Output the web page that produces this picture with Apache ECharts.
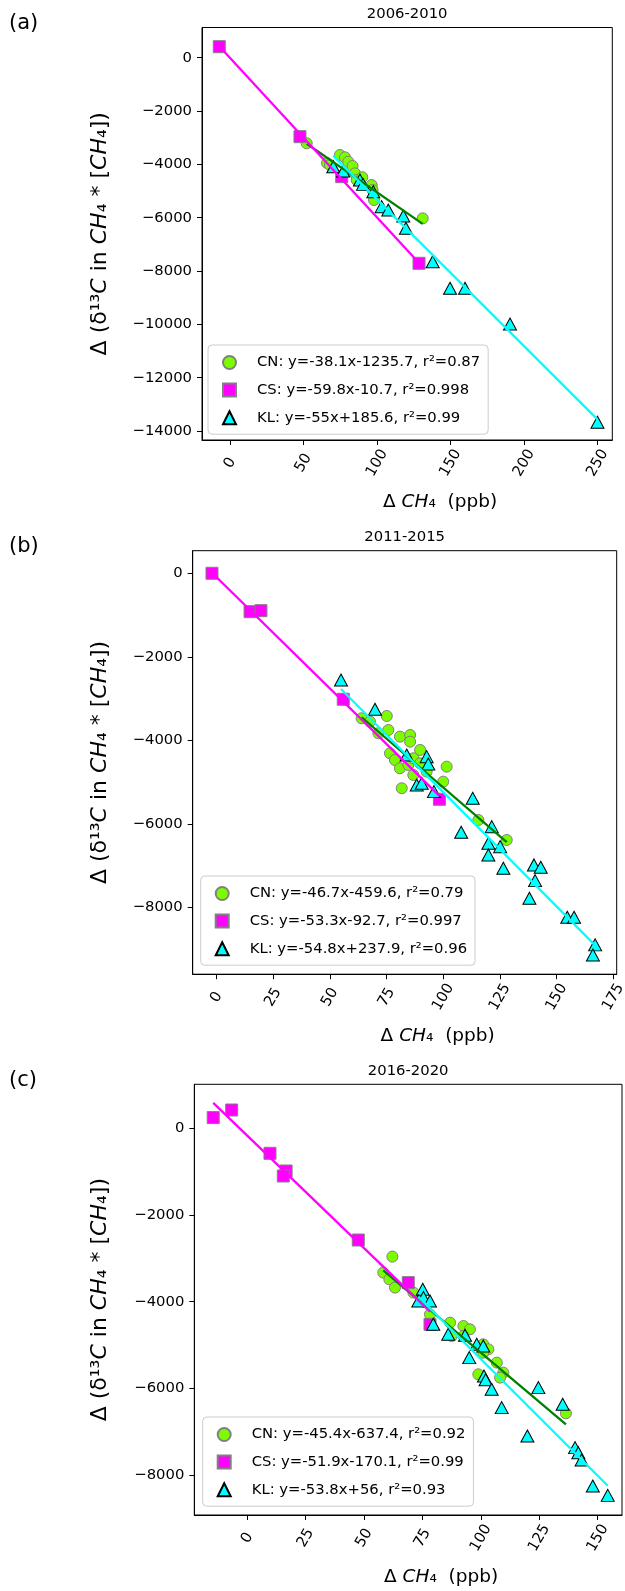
<!DOCTYPE html>
<html>
<head>
<meta charset="utf-8">
<script src="https://cdn.jsdelivr.net/npm/echarts@6/dist/echarts.min.js"></script>
<style>
  html, body { margin: 0; padding: 0; background: #fff; }
  #chart { width: 625px; height: 1591px; }
</style>
</head>
<body>
<div id="chart"></div>
<script>
// ---- data: [delta CH4 (ppb), delta(d13C*CH4)] ----
// (a) 2006-2010
var cnA = [[52.2,-3210],[66,-3950],[68,-4024],[74.8,-3649],[78.2,-3736],[80.5,-3900],[83.4,-4061],
  [85,-4336],[86.2,-4586],[90,-4480],[96.4,-4774],[97,-4961],[98,-5336],[131.1,-6024]];
var csA = [[-7.3,412],[47.6,-2962],[76,-4462],[128.6,-7710]];
var klA = [[70.3,-4087],[77,-4250],[88.4,-4586],[90.5,-4750],[97.5,-5024],[103.2,-5586],[107.7,-5711],
  [117.9,-5936],[119.7,-6398],[137.9,-7650],[149.7,-8648],[159.9,-8648],[190.5,-9986],[250,-13673]];

// (b) 2011-2015
var cnB = [[64,-3473],[67.7,-3554],[75.1,-3418],[71.4,-3832],[75.8,-3753],[80.9,-3913],[85.4,-3873],
  [85.4,-4033],[76.5,-4311],[78.7,-4472],[80.9,-4670],[84.6,-4591],[86.8,-4431],[89.8,-4551],
  [86.8,-4831],[92.7,-4751],[101.5,-4632],[100,-4991],[81.7,-5149],[115.5,-5909],[128,-6388],[89.8,-4232]];
var csB = [[-2,0],[14.8,-920],[19.6,-896],[55.9,-3018],[98.3,-5413]];
var klB = [[54.9,-2556],[69.9,-3257],[83.9,-4352],[92.7,-4392],[93.4,-4567],[88.3,-5070],[90.5,-5030],
  [95.9,-5230],[113,-5389],[107.9,-6203],[121.4,-6069],[119.9,-6466],[119.9,-6747],[125.1,-6548],
  [126.5,-7065],[140,-6986],[143,-7041],[140.5,-7362],[138,-7784],[154.7,-8239],[157.7,-8239],
  [167,-8901],[166,-9142]];

// (c) 2016-2020
var cnC = [[62.1,-2960],[58.2,-3329],[60.8,-3484],[63.2,-3675],[71.1,-3790],[78.2,-4291],[86.8,-4483],
  [87.5,-4791],[92.5,-4561],[95.3,-4637],[92.5,-4791],[101,-4983],[103.2,-5098],[101,-5175],
  [98.9,-5675],[106.8,-5405],[109.6,-5636],[108.2,-5751],[136.4,-6575]];
var csC = [[-14.6,247],[-6.7,422],[9.7,-577],[16.6,-985],[15.4,-1100],[47.5,-2577],[68.9,-3560],[78.2,-4522]];
var klC = [[75.1,-3714],[75.4,-3906],[78.2,-3984],[73.2,-3984],[79.6,-4522],[86,-4752],[93.2,-4775],
  [98.2,-4983],[101,-5022],[95,-5290],[101.3,-5714],[102,-5800],[104.6,-6021],[108.9,-6443],
  [124.6,-5982],[135,-6367],[119.9,-7098],[140.3,-7366],[141.7,-7482],[143.1,-7652],[147.9,-8252],[154.3,-8467]];

// regression fits given in the legends: slope, intercept, r2  (order CN, CS, KL)
var slopesA = [-38.1, -59.8, -55],   interceptsA = [-1235.7, -10.7, 185.6], r2A = ['0.87', '0.998', '0.99'];
var slopesB = [-46.7, -53.3, -54.8], interceptsB = [-459.6, -92.7, 237.9],  r2B = ['0.79', '0.997', '0.96'];
var slopesC = [-45.4, -51.9, -53.8], interceptsC = [-637.4, -170.1, 56],    r2C = ['0.92', '0.99', '0.93'];

var periods = ['2006-2010', '2011-2015', '2016-2020'];
var tags = ['(a)', '(b)', '(c)'];
var sites = ['CN', 'CS', 'KL'];

// tick labels
var xTicksA = [0, 50, 100, 150, 200, 250];
var xTicksB = [0, 25, 50, 75, 100, 125, 150, 175];
var xTicksC = [0, 25, 50, 75, 100, 125, 150];
var yTicksA = [-14000, -12000, -10000, -8000, -6000, -4000, -2000, 0];
var yTicksB = [-8000, -6000, -4000, -2000, 0];
var yTicksC = [-8000, -6000, -4000, -2000, 0];

// ---- layout (px) ----
var FONT = 'DejaVu Sans';
var FS = 14.8;   // ticks, legend, titles
var XFS = 18.5;  // x axis label
var YFS = 22;    // y axis label
var layout = [
  { left: 202,   top: 27.5,   width: 410.3, height: 412.5, xr: [-19.05, 260.1], yr: [-14336, 1132],
    legend: { left: 208,   top: 345 } },
  { left: 192.7, top: 550.7,  width: 424,   height: 423.5, xr: [-10.5, 176.5],  yr: [-9603, 541],
    legend: { left: 200.7, top: 876 } },
  { left: 194.3, top: 1084.3, width: 427.7, height: 430.7, xr: [-22.7, 160.4],  yr: [-8920, 1015],
    legend: { left: 202.7, top: 1417 } }
];

var groups = [[cnA, csA, klA], [cnB, csB, klB], [cnC, csC, klC]];
var slopes = [slopesA, slopesB, slopesC];
var intercepts = [interceptsA, interceptsB, interceptsC];
var r2s = [r2A, r2B, r2C];
var xTicks = [xTicksA, xTicksB, xTicksC];
var yTicks = [yTicksA, yTicksB, yTicksC];

var look = {
  CN: { symbol: 'circle',   size: 11,      fill: '#7cfc00', edge: '#808080', line: '#008000' },
  CS: { symbol: 'rect',     size: 12,      fill: '#ff00ff', edge: '#808080', line: '#ff00ff' },
  KL: { symbol: 'triangle', size: [13, 12], fill: '#00ffff', edge: '#000000', line: '#00ffff' }
};

function fitName(site, a, b, r2) {
  return site + ': y=' + a + 'x' + (b < 0 ? b : '+' + b) + ', r\u00b2=' + r2;
}
function fitLine(pts, a, b) {
  var xs = pts.map(function (p) { return p[0]; });
  var x0 = Math.min.apply(null, xs), x1 = Math.max.apply(null, xs);
  return [[x0, a * x0 + b], [x1, a * x1 + b]];
}

var grids = [], xAxes = [], yAxes = [], series = [], legends = [], graphics = [];

layout.forEach(function (L, i) {
  grids.push({ left: L.left, top: L.top, width: L.width, height: L.height, show: true,
    borderColor: '#000', borderWidth: 1, backgroundColor: '#fff', containLabel: false, outerBoundsMode: 'none' });

  xAxes.push({
    gridIndex: i, type: 'value', min: L.xr[0], max: L.xr[1],
    axisLine: { onZero: false, lineStyle: { color: '#000', width: 1 } },
    axisTick: { length: 5, customValues: xTicks[i], lineStyle: { color: '#000' } },
    axisLabel: { customValues: xTicks[i], rotate: 60, align: 'center', margin: 23,
      color: '#000', fontSize: FS, fontFamily: FONT },
    splitLine: { show: false }
  });
  yAxes.push({
    gridIndex: i, type: 'value', min: L.yr[0], max: L.yr[1],
    axisLine: { onZero: false, lineStyle: { color: '#000', width: 1 } },
    axisTick: { length: 5, customValues: yTicks[i], lineStyle: { color: '#000' } },
    axisLabel: { customValues: yTicks[i], margin: 10, color: '#000', fontSize: FS, fontFamily: FONT,
      formatter: function (v) { return String(v).replace('-', '\u2212'); } },
    splitLine: { show: false }
  });

  var names = [];
  var scat = [], lines = [];
  sites.forEach(function (s, k) {
    var nm = fitName(s, slopes[i][k], intercepts[i][k], r2s[i][k]);
    names.push(nm);
    var st = look[s];
    scat.push({
      name: nm, type: 'scatter', xAxisIndex: i, yAxisIndex: i, data: groups[i][k],
      symbol: st.symbol, symbolSize: st.size,
      itemStyle: { color: st.fill, borderColor: st.edge, borderWidth: 1, opacity: 1 },
      emphasis: { disabled: true }
    });
    lines.push({
      name: s + ' fit ' + periods[i], type: 'line', xAxisIndex: i, yAxisIndex: i,
      data: fitLine(groups[i][k], slopes[i][k], intercepts[i][k]),
      showSymbol: false, symbol: 'none', silent: true,
      lineStyle: { color: st.line, width: 2.3 }
    });
  });
  // drawing order: CN points, CN line, CS line, CS points, KL line, KL points
  series.push(scat[0], lines[0], lines[1], scat[1], lines[2], scat[2]);

  // the legend text sits 5px after the icon; extra left padding on the text moves it where matplotlib puts it
  legends.push({
    data: names, orient: 'vertical', left: L.legend.left, top: L.legend.top,
    padding: [10, 8, 9, 14], itemGap: 12.6, itemWidth: 13, itemHeight: 13,
    backgroundColor: 'rgba(255,255,255,0.8)', borderColor: '#cccccc', borderWidth: 1, borderRadius: 4,
    selectedMode: false,
    formatter: function (n) { return '{t|' + n + '}'; },
    textStyle: { color: '#000', fontSize: FS, fontFamily: FONT, lineHeight: 15,
      rich: { t: { color: '#000', fontSize: FS, fontFamily: FONT, lineHeight: 15, padding: [0, 0, 0, 16] } } }
  });

  var cx = L.left + L.width / 2, cy = L.top + L.height / 2, bottom = L.top + L.height;
  graphics.push({ type: 'text', x: cx, y: L.top - 13.5,
    style: { text: periods[i], fill: '#000', fontSize: FS, fontFamily: FONT, align: 'center', verticalAlign: 'middle' } });
  graphics.push({ type: 'text', x: 9, y: L.top - 4,
    style: { text: tags[i], fill: '#000', fontSize: 21, fontFamily: FONT, align: 'left', verticalAlign: 'middle' } });
  graphics.push({ type: 'text', x: cx + 33, y: bottom + 62,
    style: { text: '{n|\u0394 }{i|CH}{n|\u2084  (ppb)}', align: 'center', verticalAlign: 'middle',
      rich: { n: { fontSize: XFS, fontFamily: FONT, fill: '#000' },
              i: { fontSize: XFS, fontFamily: FONT, fontStyle: 'italic', fill: '#000' } } } });
  graphics.push({ type: 'text', x: 100, y: cy, rotation: Math.PI / 2,
    style: { text: '{n|\u0394 (\u03b4\u00b9\u00b3}{i|C}{n| in }{i|CH}{n|\u2084 * [}{i|CH}{n|\u2084])}',
      align: 'center', verticalAlign: 'middle',
      rich: { n: { fontSize: YFS, fontFamily: FONT, fill: '#000' },
              i: { fontSize: YFS, fontFamily: FONT, fontStyle: 'italic', fill: '#000' } } } });
});

var chart = echarts.init(document.getElementById('chart'), null, { renderer: 'canvas' });
chart.setOption({
  animation: false,
  backgroundColor: '#fff',
  grid: grids,
  xAxis: xAxes,
  yAxis: yAxes,
  legend: legends,
  series: series,
  graphic: { elements: graphics }
});
</script>
</body>
</html>
